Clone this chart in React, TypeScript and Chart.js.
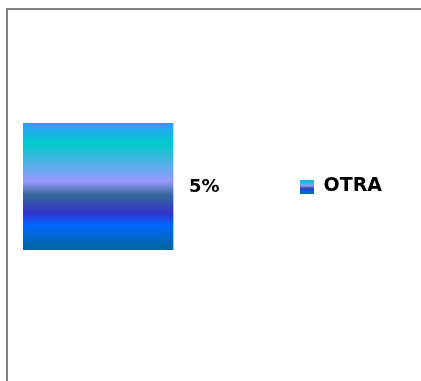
import React, { useEffect, useRef } from "react";
import { Chart, registerables } from "chart.js";

Chart.register(...registerables);

const categories = ["OTRA"];
const seriesName = "OTRA";
const values = [5];
const valueSuffix = "%";
const axisMax = 8.9;

const gradientStops: [number, string][] = [
  [0, "#3399ff"],
  [0.16, "#00cccc"],
  [0.46, "#9999ff"],
  [0.57, "#336699"],
  [0.71, "#3333cc"],
  [0.8, "#0066ff"],
  [1, "#006699"],
];

const FONT = "'DejaVu Sans', sans-serif";

function makeGradient(ctx: CanvasRenderingContext2D, top: number, bottom: number) {
  const g = ctx.createLinearGradient(0, top, 0, bottom);
  gradientStops.forEach(([o, c]) => g.addColorStop(o, c));
  return g;
}

function makeLegendImage(size: number) {
  const c = document.createElement("canvas");
  c.width = size;
  c.height = size;
  const cx = c.getContext("2d")!;
  cx.fillStyle = makeGradient(cx, 0, size);
  cx.fillRect(0, 0, size, size);
  return c;
}

const gradientPlugin = {
  id: "barGradient",
  beforeDatasetsDraw(chart: any) {
    const meta = chart.getDatasetMeta(0);
    meta.data.forEach((el: any) => {
      const top = el.y - el.height / 2;
      const bottom = el.y + el.height / 2;
      el.options.backgroundColor = makeGradient(chart.ctx, top, bottom);
    });
  },
};

const valueLabelPlugin = {
  id: "valueLabels",
  afterDatasetsDraw(chart: any) {
    const ctx = chart.ctx;
    const meta = chart.getDatasetMeta(0);
    ctx.save();
    ctx.font = `bold 18px ${FONT}`;
    ctx.fillStyle = "#000";
    ctx.textAlign = "left";
    ctx.textBaseline = "middle";
    meta.data.forEach((el: any, i: number) => {
      ctx.fillText(`${values[i]}${valueSuffix}`, el.x + 16, el.y + 1);
    });
    ctx.restore();
  },
};

export default function App() {
  const ref = useRef<HTMLCanvasElement | null>(null);
  useEffect(() => {
    if (!ref.current) return;
    const legendImg = makeLegendImage(14);
    const chart = new Chart(ref.current, {
      type: "bar",
      data: {
        labels: categories,
        datasets: [
          {
            label: seriesName,
            data: values,
            backgroundColor: "#3399ff",
            borderWidth: 0,
            barPercentage: 1,
            categoryPercentage: 1,
          },
        ],
      },
      options: {
        indexAxis: "y",
        animation: false,
        responsive: false,
        maintainAspectRatio: false,
        layout: { padding: { left: 23, top: 123, bottom: 131, right: 29 } },
        scales: {
          x: { display: false, min: 0, max: axisMax },
          y: { display: false },
        },
        plugins: {
          tooltip: { enabled: false },
          legend: {
            position: "right",
            align: "center",
            labels: {
              usePointStyle: true,
              boxWidth: 14,
              boxHeight: 14,
              padding: 10,
              color: "#000",
              font: { family: FONT, size: 19, weight: "bold" },
              generateLabels: (c: any) => {
                const items = Chart.defaults.plugins.legend.labels.generateLabels(c);
                items.forEach((it: any) => {
                  it.pointStyle = legendImg;
                });
                return items;
              },
            },
          },
        },
      },
      plugins: [gradientPlugin, valueLabelPlugin],
    } as any);
    return () => chart.destroy();
  }, []);

  return (
    <div style={{ position: "fixed", left: 0, top: 0, width: 421, height: 381, overflow: "hidden", background: "#fff" }}>
      <div
        style={{
          position: "absolute",
          left: 6,
          top: 8,
          width: 600,
          height: 600,
          borderTop: "2px solid #808080",
          borderLeft: "2px solid #808080",
        }}
      />
      <canvas ref={ref} width={421} height={381} style={{ position: "absolute", left: 0, top: 0 }} />
    </div>
  );
}
